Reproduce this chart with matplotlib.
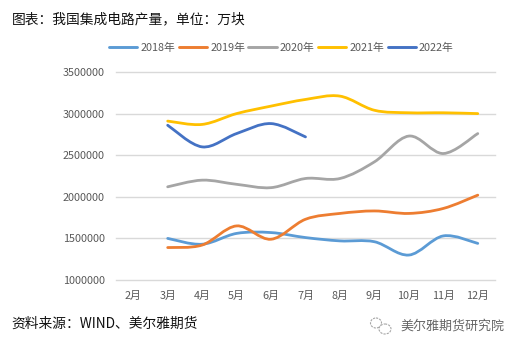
import numpy as np
import matplotlib
matplotlib.use("Agg")
import matplotlib.pyplot as plt
from matplotlib.path import Path
from matplotlib.patches import PathPatch, Ellipse
from matplotlib.lines import Line2D
from matplotlib.ticker import StrMethodFormatter

plt.rcParams['font.family'] = ['Noto Sans CJK SC', 'DejaVu Sans']

months = ['2月', '3月', '4月', '5月', '6月', '7月', '8月', '9月', '10月', '11月', '12月']
y2018 = [None, 1500000, 1430000, 1560000, 1570000, 1510000, 1470000, 1460000, 1300000, 1530000, 1440000]
y2019 = [None, 1390000, 1420000, 1650000, 1490000, 1730000, 1800000, 1830000, 1800000, 1860000, 2020000]
y2020 = [None, 2120000, 2200000, 2150000, 2110000, 2220000, 2220000, 2420000, 2730000, 2520000, 2760000]
y2021 = [None, 2910000, 2870000, 3000000, 3090000, 3170000, 3210000, 3040000, 3010000, 3010000, 3000000]
y2022 = [None, 2860000, 2600000, 2760000, 2880000, 2720000]
series = [('2018年', y2018, '#5B9BD5'), ('2019年', y2019, '#ED7D31'), ('2020年', y2020, '#A5A5A5'),
          ('2021年', y2021, '#FFC000'), ('2022年', y2022, '#4472C4')]
yticks = [1000000, 1500000, 2000000, 2500000, 3000000, 3500000]


def smooth_path(values):
    # Bezier path through the data points, like a spreadsheet's smoothed line
    pts = [(i, v) for i, v in enumerate(values) if v is not None]
    p = np.array(pts, dtype=float)
    verts = [tuple(p[0])]
    codes = [Path.MOVETO]
    n = len(p)
    for i in range(n - 1):
        a = p[max(i - 1, 0)]
        b = p[i]
        c = p[i + 1]
        d = p[min(i + 2, n - 1)]
        verts += [tuple(b + (c - a) / 6), tuple(c - (d - b) / 6), tuple(c)]
        codes += [Path.CURVE4] * 3
    return Path(verts, codes)


W, H = 520, 350
fig = plt.figure(figsize=(W / 100, H / 100), dpi=100, facecolor='white')
ax = fig.add_axes([116 / W, 1 - 280 / H, (495 - 116) / W, (280 - 72) / H])
ax.set_xlim(-0.5, len(months) - 0.5)
ax.set_ylim(yticks[0], yticks[-1])
for s in ax.spines.values():
    s.set_visible(False)
ax.set_yticks(yticks)
ax.yaxis.set_major_formatter(StrMethodFormatter('{x:.0f}'))
ax.set_xticks(range(len(months)))
ax.set_xticklabels(months)
ax.tick_params(axis='both', length=0, labelsize=7.8, labelcolor='#595959')
ax.tick_params(axis='y', pad=8)
ax.tick_params(axis='x', pad=8)
ax.grid(axis='y', color='#D9D9D9', lw=1.0)
ax.set_axisbelow(True)
for s in ax.yaxis.get_gridlines():
    s.set_clip_on(False)

handles = []
for name, vals, col in series:
    ax.add_patch(PathPatch(smooth_path(vals), fc='none', ec=col, lw=2.0, capstyle='round', zorder=3))
    handles.append(Line2D([], [], color=col, lw=2.1, solid_capstyle='round', label=name))

fig.legend(handles=handles, loc='center', bbox_to_anchor=(281.5 / W, 1 - 48 / H), ncol=5, frameon=False,
           fontsize=7.8, labelcolor='#595959', handlelength=2.6, handletextpad=0.3, columnspacing=0.3,
           borderpad=0, borderaxespad=0)

fig.text(12 / W, 1 - 19 / H, '图表：我国集成电路产量，单位：万块', fontsize=9.9, color='#111111', va='center', ha='left')
fig.text(11 / W, 1 - 324 / H, '资料来源：WIND、美尔雅期货', fontsize=9.9, color='#111111', va='center', ha='left')
fig.text(400 / W, 1 - 326 / H, '美尔雅期货研究院', fontsize=9.4, color='#666666', va='center', ha='left')

# watermark icon
overlay = fig.add_axes([0, 0, 1, 1], facecolor='none')
overlay.set_xlim(0, W)
overlay.set_ylim(H, 0)
overlay.axis('off')
overlay.add_patch(Ellipse((376, 323), 11, 10, fc='none', ec='#A6A6A6', lw=0.8, ls=(0, (2, 1))))
overlay.add_patch(Ellipse((385, 329), 12, 10, fc='white', ec='#A6A6A6', lw=0.8, ls=(0, (2, 1))))

fig.savefig('out.png', dpi=100)
